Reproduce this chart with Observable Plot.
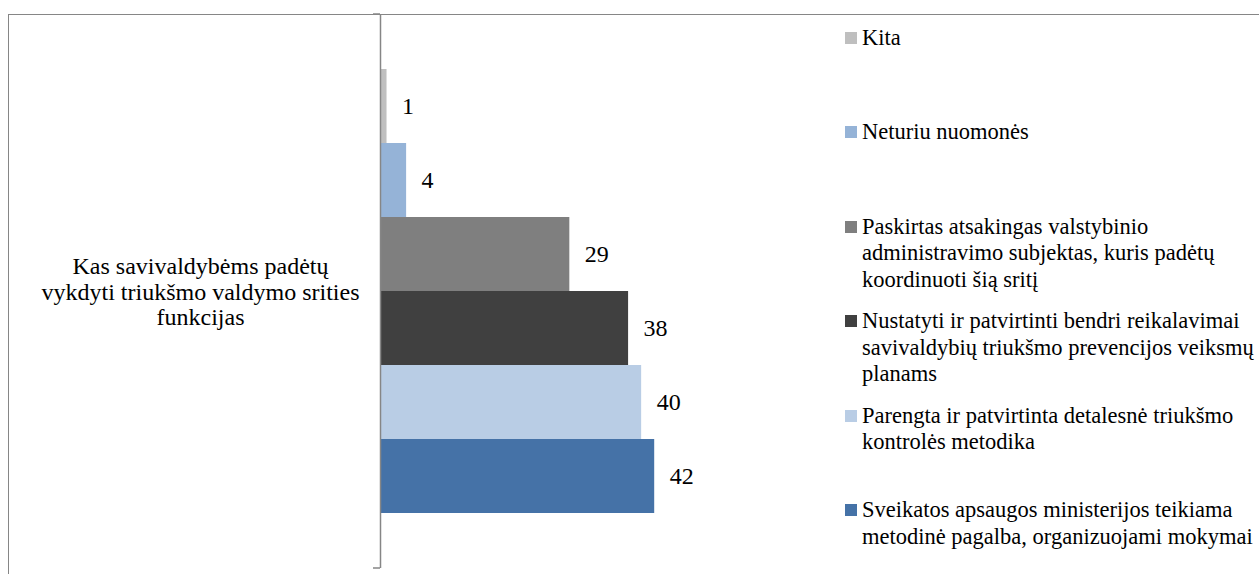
<!DOCTYPE html>
<html>
<head>
<meta charset="utf-8">
<script src="https://cdn.jsdelivr.net/npm/d3@7"></script>
<script src="https://cdn.jsdelivr.net/npm/@observablehq/plot@0.6"></script>
<style>
  html, body { margin: 0; padding: 0; background: #fff; }
  #wrap { position: relative; width: 1259px; height: 574px; overflow: hidden; font-family: "Liberation Serif", "Times New Roman", serif; }
  #border { position: absolute; left: 8px; top: 14px; width: 1300px; height: 700px; border-left: 1px solid #868686; border-top: 1px solid #868686; }
  #chart { position: absolute; left: 0; top: 0; }
  #legend { position: absolute; left: 845px; top: 0; width: 414px; }
  .item { position: absolute; left: 0; font-family: "Liberation Serif", "Times New Roman", serif; font-size: 22.5px; line-height: 26.5px; color: #000; white-space: pre; }
  .sw { position: absolute; left: 0; top: 7px; width: 12px; height: 12px; }
  .lab { position: absolute; left: 17px; top: 0; }
</style>
</head>
<body>
<div id="wrap">
  <div id="border"></div>
  <div id="chart"></div>
  <div id="legend"></div>
</div>
<script>
// ---- data ----
const category = "Kas savivaldybėms padėtų\nvykdyti triukšmo valdymo srities\nfunkcijas";
const series = [
  "Kita",
  "Neturiu nuomonės",
  "Paskirtas atsakingas valstybinio\nadministravimo subjektas, kuris padėtų\nkoordinuoti šią sritį",
  "Nustatyti ir patvirtinti bendri reikalavimai\nsavivaldybių triukšmo prevencijos veiksmų\nplanams",
  "Parengta ir patvirtinta detalesnė triukšmo\nkontrolės metodika",
  "Sveikatos apsaugos ministerijos teikiama\nmetodinė pagalba, organizuojami mokymai"
];
const values = [1, 4, 29, 38, 40, 42];
const colors = ["#BFBFBF", "#95B3D7", "#7F7F7F", "#404040", "#B9CDE5", "#4572A7"];

(function () {
const data = series.map((s, i) => ({category, series: s, value: values[i]}));

const W = 1259, H = 574;
const plot = Plot.plot({
  width: W,
  height: H,
  marginLeft: 380,
  marginRight: 422,
  marginTop: 14,
  marginBottom: 6,
  style: {fontFamily: "'Liberation Serif', 'Times New Roman', serif", fontSize: "24px", background: "transparent", color: "#000"},
  x: {domain: [0, 70], axis: null},
  y: {domain: series, paddingInner: 0, paddingOuter: 0.743, axis: null},
  fy: {domain: [category], padding: 0},
  color: {domain: series, range: colors},
  marks: [
    Plot.barX(data, {x: "value", y: "series", fy: "category", fill: "series"}),
    Plot.text(data, {x: "value", y: "series", fy: "category", text: d => String(d.value), textAnchor: "start", dx: 15, fill: "#000", fontSize: 24}),
    Plot.axisFy({anchor: "left", tickSize: 0, tickPadding: 180, textAnchor: "middle", fontSize: 24, lineHeight: 1.07, fill: "#000", label: null}),
    Plot.ruleX([0], {stroke: "#868686", strokeWidth: 1.5})
  ]
});
document.getElementById("chart").appendChild(plot);

// axis end ticks at category boundaries
const fy = plot.scale("fy");
const xs = plot.scale("x");
const x0 = xs.apply(0);
const yTop = fy.apply(category), yBot = yTop + fy.bandwidth;
const svg = d3.select(plot);
[yTop, yBot].forEach(yy => {
  svg.append("line").attr("x1", x0 - 7).attr("x2", x0).attr("y1", yy).attr("y2", yy)
    .attr("stroke", "#868686").attr("stroke-width", 1.5);
});

// legend
const legend = document.getElementById("legend");
series.forEach((s, i) => {
  const it = document.createElement("div");
  it.className = "item";
  it.style.top = (25 + i * 94.4) + "px";
  const sw = document.createElement("div");
  sw.className = "sw";
  sw.style.background = colors[i];
  const lab = document.createElement("div");
  lab.className = "lab";
  lab.textContent = s;
  it.appendChild(sw);
  it.appendChild(lab);
  legend.appendChild(it);
});
})();
</script>
</body>
</html>
